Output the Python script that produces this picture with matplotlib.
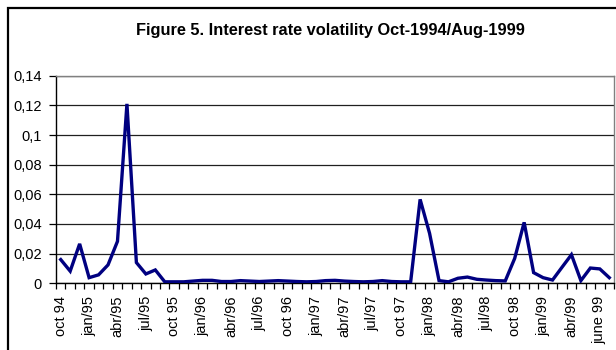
import matplotlib.pyplot as plt
from matplotlib.patches import Rectangle
from matplotlib.ticker import FuncFormatter, FixedLocator

plt.rcParams['font.family'] = ['Liberation Sans', 'DejaVu Sans']

# monthly volatility, Oct-1994 .. Aug-1999
volatility = [
    0.016, 0.0082, 0.0266, 0.0038, 0.0057, 0.0124, 0.0283, 0.121,
    0.014, 0.0063, 0.009, 0.001, 0.001, 0.001, 0.0015, 0.002,
    0.002, 0.0012, 0.0012, 0.0018, 0.0015, 0.0012, 0.0015, 0.0018,
    0.0015, 0.0012, 0.001, 0.0012, 0.0018, 0.002, 0.0015, 0.0012,
    0.001, 0.0012, 0.0018, 0.0012, 0.001, 0.001, 0.0566, 0.0337,
    0.0018, 0.001, 0.0034, 0.0042, 0.0027, 0.0022, 0.0018, 0.0016,
    0.0168, 0.0411, 0.0072, 0.0038, 0.0022, 0.0108, 0.0193, 0.0018,
    0.0103, 0.0097, 0.0038,
]

# quarterly tick labels, one every third month
tick_labels = [
    'oct 94', 'jan/95', 'abr/95', 'jul/95', 'oct 95', 'jan/96', 'abr/96',
    'jul/96', 'oct 96', 'jan/97', 'abr/97', 'jul/97', 'oct 97', 'jan/98',
    'abr/98', 'jul/98', 'oct 98', 'jan/99', 'abr/99', 'june 99',
]
tick_step = 3
y_ticks = [0, 0.02, 0.04, 0.06, 0.08, 0.1, 0.12, 0.14]

fig = plt.figure(figsize=(6.16, 3.5), dpi=100)
ax = fig.add_axes([56 / 616, 1 - 283.3 / 350, 558 / 616, 207.6 / 350])

n = len(volatility)
ax.plot(range(n), volatility, color='#000080', linewidth=2.4,
        solid_joinstyle='miter', zorder=3)

ax.set_xlim(-0.5, n - 0.5)
ax.set_ylim(0, 0.14)

# horizontal gridlines
ax.set_yticks(y_ticks)
ax.yaxis.set_major_formatter(
    FuncFormatter(lambda v, _: ('%g' % round(v, 4)).replace('.', ',')))
ax.grid(axis='y', color='#202020', linewidth=0.9, zorder=1)

# category ticks at every month boundary, labels every quarter
ax.xaxis.set_minor_locator(FixedLocator([i - 0.5 for i in range(n + 1)]))
ax.set_xticks([i * tick_step for i in range(len(tick_labels))])
ax.set_xticklabels(tick_labels, rotation=90, ha='center', va='top')
ax.tick_params(axis='x', which='major', length=0, pad=9, labelsize=10.5)
ax.tick_params(axis='x', which='minor', length=4, width=0.9, direction='out')
ax.tick_params(axis='y', length=5, width=0.9, pad=5, labelsize=10.5)

for side in ['left', 'bottom']:
    ax.spines[side].set_color('black')
    ax.spines[side].set_linewidth(1.0)
for side in ['top', 'right']:
    ax.spines[side].set_color('#808080')
    ax.spines[side].set_linewidth(1.0)

fig.text(330 / 616, 1 - 30 / 350,
         'Figure 5. Interest rate volatility Oct-1994/Aug-1999',
         ha='center', va='center', fontsize=11.8, fontweight='bold')

# chart frame
fig.patches.append(Rectangle((7.5 / 616, -0.1), 1.2, 1 - 7.5 / 350 + 0.1,
                             transform=fig.transFigure, fill=False,
                             edgecolor='black', linewidth=1.6))

fig.savefig('out.png', dpi=100)
